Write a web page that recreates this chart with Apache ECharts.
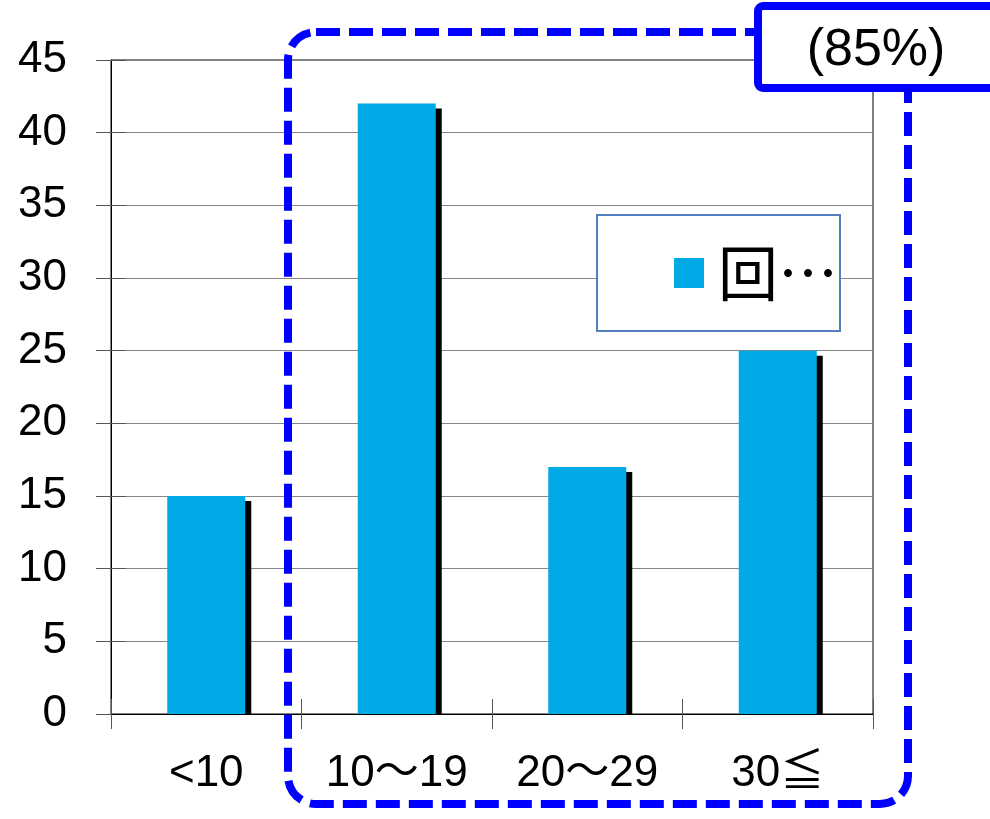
<!DOCTYPE html>
<html>
<head>
<meta charset="utf-8">
<script src="https://cdn.jsdelivr.net/npm/echarts@6/dist/echarts.min.js"></script>
<style>
  html, body { margin: 0; padding: 0; background: #fff; }
  #chart { width: 990px; height: 819px; }
</style>
</head>
<body>
<div id="chart"></div>
<script>
// Group labels along the x axis
const categories = ['<10', '10～19', '20～29', '30≦'];
// Counts per group
const counts = [15, 42, 17, 25];
// Legend entry text
const seriesName = '回…';
// Value axis range
const yMin = 0, yMax = 45, yStep = 5;
// Callout text
const calloutText = '(85%)';

const chart = echarts.init(document.getElementById('chart'), null, { renderer: 'canvas' });

const LATIN = 'Liberation Sans, Arial, sans-serif';
const CJK = 'Liberation Sans, Noto Sans CJK JP, sans-serif';

const BAR_W = 78;        // bar width in px
const SHADOW_DX = 6;     // drop shadow offset to the right
const SHADOW_DY = 5;     // drop shadow offset downward

// Bars with a hard black drop shadow that stops at the baseline
function renderBar(params, api) {
  const idx = api.value(0);
  const top = api.coord([idx, api.value(1)]);
  const base = api.coord([idx, 0]);
  const x = top[0] - BAR_W / 2;
  const h = base[1] - top[1];
  return {
    type: 'group',
    children: [
      {
        type: 'rect',
        shape: { x: x + SHADOW_DX, y: top[1] + SHADOW_DY, width: BAR_W, height: Math.max(0, h - SHADOW_DY) },
        style: { fill: '#000' }
      },
      {
        type: 'rect',
        shape: { x: x, y: top[1], width: BAR_W, height: h },
        style: { fill: api.visual('color') }
      }
    ]
  };
}

chart.setOption({
  animation: false,
  backgroundColor: '#ffffff',
  grid: {
    left: 111, top: 60, width: 762, height: 654,
    show: true, borderColor: '#000', borderWidth: 1, backgroundColor: 'transparent'
  },
  legend: {
    left: 597, top: 215,
    orient: 'horizontal',
    padding: [28, 2, 28, 77],
    borderColor: '#5580C0', borderWidth: 2,
    backgroundColor: '#ffffff',
    itemWidth: 30, itemHeight: 30,
    icon: 'rect',
    data: [seriesName],
    textStyle: { fontSize: 60, lineHeight: 60, color: '#000', fontFamily: 'Noto Sans CJK JP', padding: [0, 0, 0, 9] }
  },
  xAxis: [{
    type: 'category',
    data: categories,
    boundaryGap: true,
    z: 5,
    axisLine: { show: true, lineStyle: { color: '#000', width: 1 } },
    axisTick: { show: true, length: 15, lineStyle: { color: '#555' } },
    axisLabel: { fontSize: 44, color: '#000', fontFamily: CJK, margin: 38 },
    splitLine: { show: false }
  }, {
    type: 'category',
    data: categories,
    position: 'bottom',
    axisLine: { show: false },
    axisTick: { show: true, inside: true, length: 15, lineStyle: { color: '#555' } },
    axisLabel: { show: false },
    splitLine: { show: false }
  }],
  yAxis: [{
    type: 'value',
    min: yMin, max: yMax, interval: yStep,
    axisLine: { show: true, lineStyle: { color: '#000', width: 1 } },
    axisTick: { show: true, length: 15, lineStyle: { color: '#555' } },
    axisLabel: { fontSize: 44, color: '#000', fontFamily: LATIN, margin: 44 },
    splitLine: { show: true, lineStyle: { color: '#868686', width: 1 } }
  }, {
    type: 'value',
    min: yMin, max: yMax, interval: yStep,
    position: 'left',
    axisLine: { show: false },
    axisTick: { show: true, inside: true, length: 15, lineStyle: { color: '#555' } },
    axisLabel: { show: false },
    splitLine: { show: false }
  }],
  series: [{
    name: seriesName,
    type: 'custom',
    renderItem: renderBar,
    encode: { x: 0, y: 1 },
    data: counts.map((v, i) => [i, v]),
    itemStyle: { color: '#00AAE6' }
  }],
  graphic: [
    {
      // dashed highlight around the three upper groups
      type: 'rect',
      z: 50,
      shape: { x: 288, y: 32, width: 620, height: 772, r: 28 },
      style: { fill: 'none', stroke: '#0000FF', lineWidth: 8, lineDash: [24, 9] }
    },
    {
      // callout box
      type: 'rect',
      z: 60,
      shape: { x: 758, y: 6, width: 260, height: 82, r: 5 },
      style: { fill: '#ffffff', stroke: '#0000FF', lineWidth: 8 }
    },
    {
      type: 'text',
      z: 61,
      x: 876, y: 51,
      style: {
        text: calloutText,
        fontSize: 52, fontFamily: LATIN, fill: '#000',
        align: 'center', verticalAlign: 'middle'
      }
    }
  ]
});
</script>
</body>
</html>
